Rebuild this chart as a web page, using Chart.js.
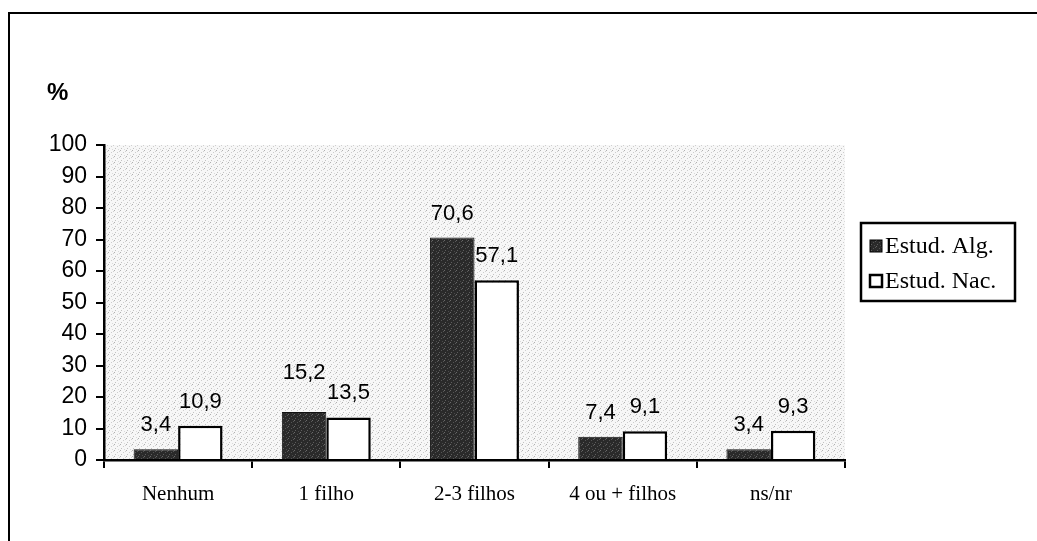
<!DOCTYPE html>
<html>
<head>
<meta charset="utf-8">
<script src="https://cdn.jsdelivr.net/npm/chart.js@4/dist/chart.umd.min.js"></script>
<style>
  body { margin: 0; background: #fff; }
  canvas { display: block; }
</style>
</head>
<body>
<canvas id="myChart" width="1037" height="541"></canvas>
<script>
// Dados do grafico
const categorias = ['Nenhum', '1 filho', '2-3 filhos', '4 ou + filhos', 'ns/nr'];
const estudAlg = [3.4, 15.2, 70.6, 7.4, 3.4];
const estudNac = [10.9, 13.5, 57.1, 9.1, 9.3];
const serieNomes = ['Estud. Alg.', 'Estud. Nac.'];
const yTicks = [0, 10, 20, 30, 40, 50, 60, 70, 80, 90, 100];

const sans = "'Liberation Sans', Arial, sans-serif";
const serif = "'Liberation Serif', 'Times New Roman', serif";

// pontilhado cinzento da area do grafico (padrao fixo)
function makePattern(base, dots) {
    const c = document.createElement('canvas');
    c.width = 6; c.height = 6;
    const g = c.getContext('2d');
    g.fillStyle = base;
    g.fillRect(0, 0, 6, 6);
    dots.forEach(d => {
        g.fillStyle = d[2];
        g.fillRect(d[0], d[1], 1, 1);
    });
    return g.createPattern(c, 'repeat');
}
const ctx = document.getElementById('myChart').getContext('2d');
const plotFill = makePattern('#f7f7f7', [[0, 0, '#b0b0b0'], [3, 2, '#cccccc'], [1, 4, '#c2c2c2'], [4, 5, '#dadada'], [5, 1, '#d0d0d0']]);
const darkFill = makePattern('#2a2a2a', [[0, 0, '#6a6a6a'], [3, 2, '#555'], [1, 4, '#5e5e5e'], [4, 5, '#4a4a4a'], [5, 1, '#585858']]);

// fundo, moldura e rotulo "%"
const backgroundPlugin = {
    id: 'fundo',
    beforeDraw(chart) {
        const c = chart.ctx;
        const a = chart.chartArea;
        c.save();
        c.fillStyle = plotFill;
        c.fillRect(a.left, a.top, a.right - a.left, a.bottom - a.top);
        c.strokeStyle = '#000';
        c.lineWidth = 2;
        c.beginPath();
        c.moveTo(9, 541);
        c.lineTo(9, 13);
        c.lineTo(1037, 13);
        c.stroke();
        c.fillStyle = '#000';
        c.font = 'bold 24px ' + sans;
        c.textBaseline = 'middle';
        c.fillText('%', 47, 93);
        c.restore();
    }
};

// valores por cima das barras (o rotulo da barra mais alta sobe se houver sobreposicao)
const valueLabels = {
    id: 'valores',
    afterDatasetsDraw(chart) {
        const c = chart.ctx;
        c.save();
        c.fillStyle = '#000';
        c.font = '22px ' + sans;
        c.textAlign = 'center';
        c.textBaseline = 'alphabetic';
        const capH = 16;
        chart.data.labels.forEach((lab, j) => {
            const items = chart.data.datasets.map((ds, i) => {
                const bar = chart.getDatasetMeta(i).data[j];
                const txt = ds.data[j].toFixed(1).replace('.', ',');
                return { txt, x: bar.x, y: bar.y - 18, w: c.measureText(txt).width, v: ds.data[j] };
            });
            const a = items[0], b = items[1];
            const hOverlap = Math.abs(a.x - b.x) < (a.w + b.w) / 2 + 2;
            const vOverlap = Math.abs(a.y - b.y) < capH + 4;
            if (hOverlap && vOverlap) {
                const hi = a.v >= b.v ? a : b;
                const lo = hi === a ? b : a;
                hi.y = Math.min(hi.y, lo.y - capH - 4);
            }
            items.forEach(it => c.fillText(it.txt, it.x, it.y));
        });
        c.restore();
    }
};

// legenda com caixa
const boxLegend = {
    id: 'legendaCaixa',
    afterDraw(chart) {
        const c = chart.ctx;
        c.save();
        c.strokeStyle = '#000';
        c.lineWidth = 2.5;
        c.fillStyle = '#fff';
        c.fillRect(861, 223, 154, 78);
        c.strokeRect(861, 223, 154, 78);
        c.font = '24px ' + serif;
        c.textBaseline = 'alphabetic';
        chart.data.datasets.forEach((ds, i) => {
            const y = 240 + i * 35;
            c.fillStyle = ds.backgroundColor;
            c.fillRect(870, y, 12, 12);
            c.lineWidth = ds.borderWidth;
            c.strokeStyle = '#000';
            c.strokeRect(870, y, 12, 12);
            c.fillStyle = '#000';
            c.fillText(ds.label, 885, y + 13);
        });
        c.restore();
    }
};

const myChart = new Chart(ctx, {
    type: 'bar',
    data: {
        labels: categorias,
        datasets: [
            {
                label: serieNomes[0],
                data: estudAlg,
                backgroundColor: darkFill,
                borderColor: '#111',
                borderWidth: 1,
                categoryPercentage: 0.6,
                barPercentage: 1.0
            },
            {
                label: serieNomes[1],
                data: estudNac,
                backgroundColor: '#fff',
                borderColor: '#000',
                borderWidth: 2.5,
                categoryPercentage: 0.6,
                barPercentage: 1.0
            }
        ]
    },
    options: {
        responsive: false,
        animation: false,
        layout: { padding: { left: 0, top: 145, right: 192, bottom: 0 } },
        plugins: {
            legend: { display: false },
            tooltip: { enabled: false }
        },
        scales: {
            x: {
                afterFit(scale) { scale.height = 81; },
                border: { color: '#000', width: 2.5 },
                grid: { offset: true, drawOnChartArea: false, drawTicks: true, tickLength: 8, color: '#000', lineWidth: 2 },
                ticks: { color: '#000', font: { family: serif, size: 21 }, padding: 14, maxRotation: 0 }
            },
            y: {
                min: 0,
                max: 100,
                afterFit(scale) { scale.width = 104; },
                afterBuildTicks(scale) { scale.ticks = yTicks.map(v => ({ value: v })); },
                border: { color: '#000', width: 2.5 },
                grid: { drawOnChartArea: false, drawTicks: true, tickLength: 8, color: '#000', lineWidth: 2 },
                ticks: { color: '#000', font: { family: sans, size: 23 }, padding: 9 }
            }
        }
    },
    plugins: [backgroundPlugin, valueLabels, boxLegend]
});
</script>
</body>
</html>
